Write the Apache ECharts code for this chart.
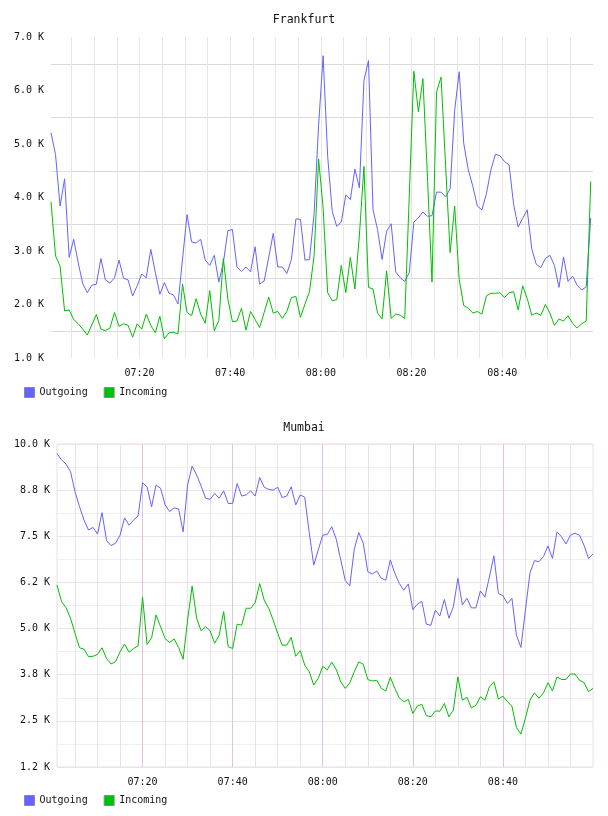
<!DOCTYPE html>
<html>
<head>
<meta charset="utf-8">
<script src="https://cdn.jsdelivr.net/npm/echarts@6/dist/echarts.min.js"></script>
<style>
html, body { margin: 0; padding: 0; background: #fff; }
#main { width: 608px; height: 816px; }
</style>
</head>
<body>
<div id="main"></div>
<script>
// samples are one minute apart, first sample given in minutes after 07:00
const frankfurtStart = 0.5
const mumbaiStart = 1

const frankfurtOutgoing = [
  5210, 4800, 3840, 4350, 2880, 3220, 2780, 2390, 2220, 2360,
  2380, 2860, 2460, 2400, 2500, 2830, 2490, 2460, 2160, 2350,
  2570, 2500, 3030, 2600, 2190, 2410, 2210, 2180, 2010, 2850,
  3680, 3170, 3150, 3220, 2830, 2730, 2920, 2420, 2780, 3380,
  3400, 2700, 2620, 2700, 2610, 3080, 2380, 2440, 2880, 3330,
  2700, 2700, 2580, 2840, 3600, 3590, 2830, 2840, 3700, 5350,
  6650, 4770, 3740, 3460, 3540, 4050, 3960, 4530, 4180, 6190,
  6560, 3770, 3400, 2840, 3370, 3510, 2610, 2500, 2430, 2600,
  3540, 3620, 3730, 3650, 3660, 4100, 4100, 4010, 4160, 5630,
  6350, 5010, 4520, 4210, 3840, 3770, 4070, 4520, 4810, 4780,
  4670, 4610, 3870, 3450, 3610, 3770, 3040, 2750, 2690, 2860,
  2920, 2730, 2320, 2890, 2430, 2530, 2360, 2270, 2330, 3620
]
const frankfurtIncoming = [
  3920, 2910, 2720, 1880, 1900, 1720, 1640, 1540, 1430, 1620,
  1810, 1540, 1510, 1560, 1850, 1590, 1640, 1610, 1390, 1640,
  1540, 1820, 1610, 1470, 1780, 1360, 1470, 1480, 1450, 2380,
  1850, 1790, 2110, 1820, 1650, 2260, 1510, 1700, 2860, 2100,
  1680, 1690, 1930, 1520, 1870, 1720, 1570, 1850, 2140, 1840,
  1870, 1740, 1870, 2130, 2150, 1760, 2010, 2240, 2910, 4720,
  3800, 2220, 2070, 2090, 2730, 2220, 2880, 2290, 3300, 4580,
  2320, 2290, 1840, 1730, 2630, 1740, 1820, 1800, 1740, 4050,
  6360, 5600, 6220, 4390, 2420, 5970, 6250, 4600, 2970, 3840,
  2470, 1980, 1930, 1840, 1870, 1820, 2160, 2210, 2210, 2220,
  2130, 2220, 2240, 1900, 2350, 2110, 1800, 1840, 1800, 2000,
  1840, 1610, 1730, 1690, 1790, 1650, 1560, 1640, 1690, 4300
]
const mumbaiOutgoing = [
  9740, 9570, 9460, 9250, 8710, 8300, 7940, 7670, 7740, 7560,
  8140, 7380, 7250, 7310, 7530, 8000, 7800, 7940, 8050, 8950,
  8840, 8300, 8890, 8800, 8350, 8170, 8270, 8240, 7620, 8890,
  9400, 9160, 8860, 8530, 8500, 8660, 8530, 8730, 8390, 8390,
  8930, 8590, 8620, 8730, 8590, 9090, 8830, 8770, 8750, 8830,
  8550, 8590, 8840, 8350, 8620, 8560, 7600, 6720, 7130, 7530,
  7550, 7760, 7420, 6860, 6300, 6160, 7150, 7600, 7310, 6540,
  6480, 6560, 6360, 6310, 6860, 6500, 6220, 6040, 6210, 5510,
  5660, 5740, 5120, 5090, 5500, 5340, 5790, 5280, 5590, 6360,
  5640, 5820, 5560, 5560, 6020, 5850, 6400, 6970, 5950, 5890,
  5680, 5820, 4820, 4490, 5500, 6500, 6840, 6810, 6950, 7240,
  6900, 7620, 7490, 7290, 7530, 7580, 7530, 7260, 6900, 7020
]
const mumbaiIncoming = [
  6180, 5730, 5570, 5280, 4870, 4480, 4440, 4240, 4250, 4300,
  4480, 4190, 4040, 4100, 4370, 4580, 4360, 4460, 4530, 5850,
  4570, 4750, 5370, 5050, 4730, 4620, 4720, 4490, 4170, 5230,
  6150, 5280, 4940, 5050, 4940, 4600, 4820, 5460, 4510, 4460,
  5120, 5090, 5550, 5550, 5700, 6220, 5770, 5550, 5230, 4870,
  4550, 4550, 4760, 4250, 4400, 4010, 3830, 3470, 3650, 3980,
  3880, 4090, 3890, 3560, 3380, 3530, 3830, 4100, 4030, 3620,
  3580, 3600, 3380, 3310, 3680, 3380, 3120, 3020, 3080, 2700,
  2900, 2950, 2640, 2610, 2770, 2760, 2970, 2610, 2790, 3690,
  3060, 3140, 2850, 2920, 3150, 3060, 3420, 3560, 3090, 3170,
  3020, 2900, 2320, 2140, 2570, 3060, 3260, 3110, 3260, 3530,
  3310, 3690, 3620, 3620, 3770, 3770, 3600, 3540, 3290, 3380
]

// x ticks (minutes after 07:00)
const gridMinutes = [5, 10, 15, 20, 25, 30, 35, 40, 45, 50, 55, 60, 65, 70, 75, 80, 85, 90, 95, 100, 105, 110, 115]
const labelMinutes = [20, 40, 60, 80, 100]
const mumbaiTickLabels = ['1.2 K', '2.5 K', '3.8 K', '5.0 K', '6.2 K', '7.5 K', '8.8 K', '10.0 K']

const FONT = 'DejaVu Sans Mono'
const BLUE = '#6464ff'
const GREEN = '#00c000'

const pad = n => (n < 10 ? '0' : '') + n
const hhmm = m => pad(7 + Math.floor(m / 60)) + ':' + pad(m % 60)
const pairs = (start, vals) => vals.map((v, i) => [start + i, v])

const labelStyle = { fontFamily: FONT, fontSize: 10, color: '#111' }

function xAxis (gridIndex, min, lineColors) {
  return {
    type: 'value', gridIndex: gridIndex, min: min, max: 120,
    axisLine: { show: false },
    axisTick: { show: false, customValues: gridMinutes },
    axisLabel: Object.assign({ customValues: labelMinutes, formatter: hhmm, margin: 10 }, labelStyle),
    splitLine: { show: true, lineStyle: { color: lineColors, width: 1 } }
  }
}

function line (name, color, data, idx) {
  return {
    name: name, type: 'line', xAxisIndex: idx, yAxisIndex: idx,
    data: data, showSymbol: false, symbol: 'none', color: color,
    lineStyle: { width: 1, color: color }, animation: false
  }
}

function legend (top) {
  return {
    data: ['Outgoing', 'Incoming'], left: 24, top: top, padding: 0,
    icon: 'rect', itemWidth: 10, itemHeight: 10, itemGap: 16,
    itemStyle: { borderColor: '#8a8a8a', borderWidth: 1 },
    textStyle: labelStyle
  }
}

const chart = echarts.init(document.getElementById('main'), null, { width: 608, height: 816 })
chart.setOption({
  backgroundColor: '#fff',
  animation: false,
  title: [
    { text: 'Frankfurt', left: 'center', top: 14, padding: 0, textStyle: { fontFamily: FONT, fontSize: 11.5, fontWeight: 'normal', color: '#111' } },
    { text: 'Mumbai', left: 'center', top: 422, padding: 0, textStyle: { fontFamily: FONT, fontSize: 11.5, fontWeight: 'normal', color: '#111' } }
  ],
  legend: [legend(387), legend(795)],
  grid: [
    { left: 51, top: 37, width: 542, height: 321 },
    { left: 57, top: 444, width: 536, height: 323, show: true, borderColor: '#ecdcec', borderWidth: 1 }
  ],
  xAxis: [
    xAxis(0, frankfurtStart, ['#e6e6e6']),
    xAxis(1, mumbaiStart, ['#ebe0eb', '#ebe0eb', '#ebe0eb', '#dcc6dc'])
  ],
  yAxis: [
    {
      type: 'value', gridIndex: 0, min: 1000, max: 7000, interval: 500,
      axisLine: { show: false }, axisTick: { show: false },
      axisLabel: Object.assign({
        margin: 7,
        formatter: v => (v % 1000 === 0 ? (v / 1000).toFixed(1) + ' K' : '')
      }, labelStyle),
      splitLine: { lineStyle: { color: ['transparent', '#dadada'] } }
    },
    {
      type: 'value', gridIndex: 1, min: 1250, max: 10000, interval: 625,
      axisLine: { show: false }, axisTick: { show: false },
      axisLabel: Object.assign({
        margin: 7,
        formatter: v => (v % 1250 === 0 ? mumbaiTickLabels[v / 1250 - 1] : '')
      }, labelStyle),
      splitLine: { lineStyle: { color: ['#eee0ee', '#f3edf3'] } }
    }
  ],
  series: [
    line('Outgoing', BLUE, pairs(frankfurtStart, frankfurtOutgoing), 0),
    line('Incoming', GREEN, pairs(frankfurtStart, frankfurtIncoming), 0),
    line('Outgoing', BLUE, pairs(mumbaiStart, mumbaiOutgoing), 1),
    line('Incoming', GREEN, pairs(mumbaiStart, mumbaiIncoming), 1)
  ]
})
</script>
</body>
</html>
